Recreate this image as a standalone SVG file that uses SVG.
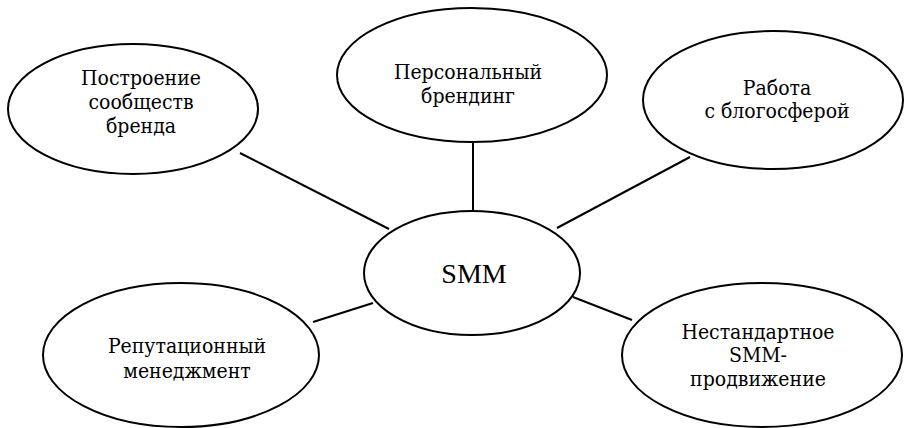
<svg xmlns="http://www.w3.org/2000/svg" width="904" height="428" viewBox="0 0 904 428">
<style>
.n{fill:#fff;stroke:#000;stroke-width:2}
.c line{stroke:#000;stroke-width:2}
text{font-family:"DejaVu Serif Condensed","DejaVu Serif",serif;font-stretch:condensed;font-size:21px;fill:#000;text-anchor:middle}
.big{font-family:"Liberation Serif",serif;font-stretch:normal;font-size:28px}
</style>
<rect width="904" height="428" fill="#fff"/>
<g class="c" id="connectors">
<line x1="240" y1="153" x2="389" y2="229"/>
<line x1="473" y1="140" x2="473" y2="212"/>
<line x1="690" y1="157" x2="557" y2="228"/>
<line x1="373" y1="303" x2="313" y2="322"/>
<line x1="573" y1="297" x2="632" y2="320"/>
</g>
<g id="n1"><ellipse class="n" cx="133" cy="109" rx="125" ry="65"/>
<text x="141" y="85">Построение</text><text x="141" y="109">сообществ</text><text x="141" y="133">бренда</text></g>
<g id="n2"><ellipse class="n" cx="472" cy="75" rx="135" ry="67"/>
<text x="468" y="79">Персональный</text><text x="468" y="103">брендинг</text></g>
<g id="n3"><ellipse class="n" cx="773" cy="100" rx="130" ry="69"/>
<text x="777" y="95">Работа</text><text x="777" y="118">с блогосферой</text></g>
<g id="smm"><ellipse class="n" cx="472" cy="273" rx="108" ry="62"/>
<text class="big" x="474" y="283">SMM</text></g>
<g id="n5"><ellipse class="n" cx="181" cy="355" rx="138" ry="72"/>
<text x="187" y="353">Репутационный</text><text x="187" y="378">менеджмент</text></g>
<g id="n6"><ellipse class="n" cx="762" cy="355" rx="140" ry="72"/>
<text x="758" y="339">Нестандартное</text><text x="758" y="362">SMM-</text><text x="758" y="386">продвижение</text></g>
</svg>
